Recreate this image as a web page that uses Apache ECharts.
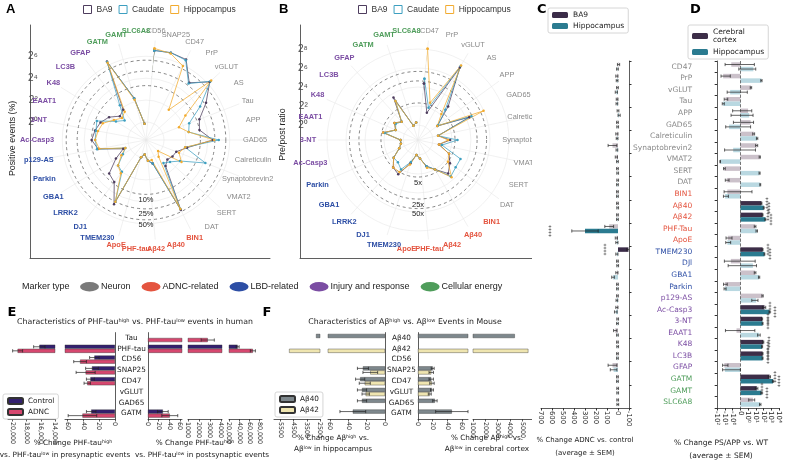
<!DOCTYPE html>
<html>
<head>
<meta charset="utf-8">
<script src="https://cdn.jsdelivr.net/npm/echarts@6/dist/echarts.min.js"></script>
<style>
body { margin: 0; background: #fff; }
#root { position: relative; width: 785px; height: 462px; overflow: hidden; background: #fff; }
.p { position: absolute; }
</style>
</head>
<body>
<div id="root">
  <div class="p" id="pA" style="left:0;top:0;width:290px;height:280px"></div>
  <div class="p" id="pB" style="left:270px;top:0;width:290px;height:280px"></div>
  <div class="p" id="pM" style="left:0;top:276px;width:530px;height:26px"></div>
  <div class="p" id="pE" style="left:0;top:300px;width:270px;height:162px"></div>
  <div class="p" id="pF" style="left:260px;top:300px;width:275px;height:162px"></div>
  <div class="p" id="pC" style="left:532px;top:0;width:110px;height:462px"></div>
  <div class="p" id="pD" style="left:630px;top:0;width:155px;height:462px"></div>
</div>
<script>
// ---------- data ----------
const typeColors = { N: "#8a8a8a", A: "#e4543f", L: "#2d4ea5", I: "#7b4da3", E: "#4f9d5b" };
const markerTypes = ["Neuron", "ADNC-related", "LBD-related", "Injury and response", "Cellular energy"];
const markerColors = ["#7a7a7a", "#e4543f", "#2d4ea5", "#7b4da3", "#4f9d5b"];
const regionColors = { BA9: "#4e3d5e", Caudate: "#3d9fc0", Hippocampus: "#f2ab2f" };

// A: positive events (%)
const aCats = ["CD56", "SNAP25", "CD47", "PrP", "vGLUT", "AS", "Tau", "APP", "GAD65", "Calreticulin",
  "Synaptobrevin2", "VMAT2", "SERT", "DAT", "BIN1", "Aβ40", "Aβ42", "PHF-tau", "ApoE", "TMEM230",
  "DJ1", "LRRK2", "GBA1", "Parkin", "p129-AS", "Ac-Casp3", "3-NT", "EAAT1", "K48", "LC3B",
  "GFAP", "GATM", "GAMT", "SLC6A8"];
const aTypes = "NNNNNNNNNNNNNNAAAAALLLLLLIIIIIIEEE";
const aBA9 = [95, 100, 95, 30, 75, 28, 12, 10, 22, 4.5, 2.5, 2.3, 2, 2.5, 45, 1.5, 1.2, 0.8, 1.0, 30,
  9, 7.5, 3, 1.5, 7, 10, 8.5, 7, 5, 3, 3.5, 82, 5, 0.9];
const aCaudate = [95, 100, 90, 28, 80, 18, 6, 5, 32, 4, 18, 4, 2.5, 2, 42, 1.5, 1.2, 0.8, 1.0, 25,
  4, 3.5, 1.8, 1.3, 7.5, 8, 8, 9, 3, 2, 5, 80, 5, 0.9];
const aHippo = [108, 95, 60, 3.5, 85, 6, 3, 5, 24, 4, 3, 4.5, 0.9, 1.2, 42, 1.2, 1.2, 0.8, 1.0, 25,
  4.5, 3.5, 2, 1.3, 6.5, 8, 7, 6, 3.5, 2.5, 3, 75, 4.5, 0.9];
const aRings = [10, 25, 50];
const aGridRings = [1, 4, 16, 64];

// B: pre/post ratio
const bCats = ["CD47", "PrP", "vGLUT", "AS", "APP", "GAD65", "Calreticulin", "Synaptobrevin2", "VMAT2", "SERT",
  "DAT", "BIN1", "Aβ40", "Aβ42", "PHF-tau", "ApoE", "TMEM230", "DJ1", "LRRK2", "GBA1",
  "Parkin", "Ac-Casp3", "3-NT", "EAAT1", "K48", "LC3B", "GFAP", "GATM", "GAMT", "SLC6A8"];
const bTypes = "NNNNNNNNNNNAAAAALLLLLIIIIIIEEE";
const bBA9 = [21, 2.7, 150, 9, 1.9, 20, 1.5, 3.5, 1.6, 4, 6, 9, 4, 2.5, 1.3, 1.0, 2, 6, 5, 3,
  1.5, 1.2, 1.2, 4.5, 2, 2.8, 2, 12, 1.0, 1.2];
const bCaudate = [30, 4, 170, 6.6, 2, 24, 1.5, 6, 2, 10, 10, 12, 4, 2.5, 1.3, 1.0, 1.8, 4, 3, 3,
  1.5, 1.2, 1.2, 4, 2, 2.5, 2, 9, 1.0, 1.2];
const bHippo = [270, 5.8, 180, 4.3, 1.9, 63, 1.5, 3, 1.6, 4, 5, 13, 4, 2.8, 1.3, 1.0, 2.2, 5, 5, 3,
  1.5, 1.2, 1.2, 4.5, 2, 2.8, 2, 9, 1.0, 1.2];
const bRings = [5, 25, 50];
const bGridRings = [1, 4, 16, 64, 256];

// C and D share categories
const cdCats = ["CD47", "PrP", "vGLUT", "Tau", "APP", "GAD65", "Calreticulin", "Synaptobrevin2", "VMAT2", "SERT",
  "DAT", "BIN1", "Aβ40", "Aβ42", "PHF-Tau", "ApoE", "TMEM230", "DJl", "GBA1", "Parkin",
  "p129-AS", "Ac-Casp3", "3-NT", "EAAT1", "K48", "LC3B", "GFAP", "GATM", "GAMT", "SLC6A8"];
const cdTypes = "NNNNNNNNNNNAAAAALLLLIIIIIIIEEE";

// C: % change ADNC vs control
const cBA9 = [-5, 10, 5, 8, 0, 5, 10, 50, 15, 5, 3, 5, 5, 5, 80, 15, -95, 5, 10, 5,
  5, 10, 3, 25, 5, 5, 50, 5, 3, 3];
const cHippo = [5, 8, 15, 10, -10, 3, 8, 10, 5, 3, 5, 5, 3, 5, 300, 10, 10, 3, 45, 5,
  10, 20, 5, 5, 3, 5, 40, 5, 3, 2];
const cBA9Sem = [10, 10, 8, 8, 8, 8, 10, 40, 10, 8, 8, 8, 8, 8, 40, 10, 15, 8, 10, 8,
  8, 10, 8, 15, 8, 8, 40, 8, 8, 8];
const cHippoSem = [8, 8, 10, 8, 10, 8, 8, 8, 8, 8, 8, 8, 8, 8, 120, 10, 10, 8, 12, 8,
  8, 12, 8, 8, 8, 8, 30, 8, 8, 8];
const cBA9Sig = [16];
const cHippoSig = [14];

// D: % change PS/APP vs WT
const dCortex = [-1.5, -17, 2.4, -8.3, 1.0, 2.1, 5.5, 13.5, 33, -12, -5.9, -4.8, 54, 76, 8.3, -4.2, 76, -1.7, 8.3, -10,
  76, 132, 66, -0.5, 93, 76, -12, 600, 13.5, 4.2];
const dHippo = [4.8, 54, -2.1, -17, 1.4, -2.9, 15, -0.93, -41, 31, 38, -9.5, 107, 174, 13.5, -4.8, 132, 4.2, 27, -10,
  11, 600, 76, 27, 66, 76, -10, 1700, 54, 38];
const dCortexSem = [8, 15, 0.5, 4, 2, 3, 1.5, 4, 6, 3, 3, 8, 8, 10, 2, 3, 10, 10, 2, 5,
  15, 60, 10, 8, 15, 10, 8, 200, 5, 3];
const dHippoSem = [5, 10, 3, 5, 3, 5, 3, 10, 4, 5, 5, 6, 15, 25, 3, 3, 15, 8, 5, 3,
  8, 80, 10, 10, 10, 10, 10, 300, 10, 8];
const dSig = [12, 13, 16, 21, 22, 24, 25, 27, 28];

// E: PHF-tau high vs low, human
const eCats = ["Tau", "PHF-tau", "CD56", "SNAP25", "CD47", "vGLUT", "GAD65", "GATM"];
const ePreControl = [null, 16200, 26, 29, 31, null, null, 30];
const ePreADNC = [null, 19250, 44, 37, 35, null, null, 41];
const ePreControlSem = [null, 800, 6, 8, 5, null, null, 6];
const ePreADNCSem = [null, 700, 8, 12, 4, null, null, 18];
const ePostControl = [null, 37000, null, null, null, null, null, 28];
const ePostADNC = [2800, 67000, null, null, null, null, null, 41];
const ePostControlSem = [null, 3000, null, null, null, null, null, 10];
const ePostADNCSem = [600, 5000, null, null, null, null, null, 15];

// F: Abeta high vs low, mouse
const fCats = ["Aβ40", "Aβ42", "CD56", "SNAP25", "CD47", "vGLUT", "GAD65", "GATM"];
const fHipAb40 = [2800, null, null, 24, 27, 25, 25, 35];
const fHipAb42 = [null, 4850, null, 16, 22, 21, null, null];
const fHipAb40Sem = [null, null, null, 6, 5, 5, 5, 14];
const fHipAb42Sem = [null, null, null, 8, 6, 4, null, null];
const fCtxAb40 = [4400, null, null, 20, 18, 19, 23, 46];
const fCtxAb42 = [null, 5500, null, 18, 19, 16, null, null];
const fCtxAb40Sem = [null, null, null, 2, 3, 2, 3, 22];
const fCtxAb42Sem = [null, null, null, 3, 3, 2, null, null];

// ---------- helpers ----------
const SANS = '"Liberation Sans", Arial, sans-serif';
const DEJA = '"DejaVu Sans", sans-serif';
const SUP = { "0": "⁰", "1": "¹", "2": "²", "3": "³", "4": "⁴", "5": "⁵", "6": "⁶", "7": "⁷", "8": "⁸", "9": "⁹", "-": "⁻" };
const sup = (n) => String(n).split("").map((c) => SUP[c]).join("");

function mk(id, option) {
    const chart = echarts.init(document.getElementById(id), null, { renderer: "canvas" });
    chart.setOption(option);
    return chart;
}

function ringSeries(levels, color, dashed, suffix) {
    return {
        type: "custom",
        coordinateSystem: "polar",
        silent: true,
        z: 1,
        data: levels.map((v) => [v, 0]),
        renderItem(params, api) {
            const cs = params.coordSys;
            const p = api.coord([api.value(0), 0]);
            const r = Math.hypot(p[0] - cs.cx, p[1] - cs.cy);
            const children = [{
                type: "circle",
                shape: { cx: cs.cx, cy: cs.cy, r },
                style: { fill: "none", stroke: color, lineWidth: dashed ? 0.8 : 0.6, lineDash: dashed ? [3, 3] : null },
            }];
            if (suffix) {
                children.push({
                    type: "text",
                    x: cs.cx,
                    y: cs.cy + r + 1.5,
                    style: { text: api.value(0) + suffix, align: "center", verticalAlign: "top", fontSize: 7.5, fontFamily: SANS, fill: "#222" },
                });
            }
            return { type: "group", children };
        },
    };
}

// category names centred on a ring just outside the polar area (ggplot style)
function spokeLabels(cats, types, offset) {
    return {
        type: "custom",
        coordinateSystem: "polar",
        silent: true,
        z: 4,
        data: cats.map((c, i) => [1, i]),
        renderItem(params, api) {
            const cs = params.coordSys;
            const i = api.value(1);
            const p = api.coord([1, i]);
            const dx = p[0] - cs.cx, dy = p[1] - cs.cy;
            const d = Math.hypot(dx, dy) || 1;
            const rr = cs.r + offset;
            return {
                type: "text",
                x: cs.cx + dx / d * rr,
                y: cs.cy + dy / d * rr,
                style: {
                    text: cats[i], align: "center", verticalAlign: "middle", fontSize: 7.4, fontFamily: SANS,
                    fill: typeColors[types[i]], fontWeight: types[i] === "N" ? "normal" : "bold",
                },
            };
        },
    };
}

function radarLine(name, vals) {
    const color = regionColors[name];
    const data = vals.map((v, i) => [v, i]);
    data.push([vals[0], 0]);
    return {
        name,
        type: "line",
        coordinateSystem: "polar",
        data,
        symbol: "circle",
        symbolSize: 2.5,
        lineStyle: { width: 0.75, color },
        itemStyle: { color },
        z: 3,
    };
}

function radarOption(cfg) {
    const R = 100;
    const m1 = cfg.m0 * Math.exp(R / cfg.k);
    const lnMin = Math.LN2 * cfg.yExp[0];
    const lnMax = Math.LN2 * cfg.yExp[1];
    const gBottom = cfg.cy + cfg.k * (Math.log(cfg.m0) - lnMin);
    const gTop = cfg.cy - cfg.k * (lnMax - Math.log(cfg.m0));
    const n = cfg.cats.length;
    const frameAxis = {
        type: "value", min: 0, max: 1,
        axisLine: { show: true, onZero: false, lineStyle: { color: "#4d4d4d", width: 0.9 } },
        axisTick: { show: false }, axisLabel: { show: false }, splitLine: { show: false },
    };
    return {
        textStyle: { fontFamily: SANS },
        title: { text: cfg.letter, left: cfg.letterX, top: 3, padding: 0, textStyle: { fontSize: 13, fontWeight: "bold", color: "#000", fontFamily: SANS } },
        legend: {
            top: 5, left: cfg.legendLeft, padding: 0, itemWidth: 8, itemHeight: 8, itemGap: 6, icon: "rect",
            textStyle: { fontSize: 8.5, color: "#333", fontFamily: SANS },
            data: Object.keys(regionColors).map((nm) => ({
                name: nm,
                itemStyle: { color: "#fff", borderColor: regionColors[nm], borderWidth: 1 },
            })),
        },
        polar: { center: [cfg.cx, cfg.cy], radius: R },
        angleAxis: {
            type: "category",
            data: cfg.cats,
            boundaryGap: false,
            startAngle: 90 - 180 / n,
            clockwise: true,
            axisLine: { show: false },
            axisTick: { show: false },
            axisLabel: { show: false },
            splitLine: { show: true, lineStyle: { color: "#e8e8e8", width: 0.6 } },
        },
        radiusAxis: {
            type: "log", logBase: 2, min: cfg.m0, max: m1,
            axisLine: { show: false }, axisLabel: { show: false }, axisTick: { show: false }, splitLine: { show: false },
        },
        grid: [
            { left: 30, top: gTop, width: 240, height: gBottom - gTop },
            { left: 30, top: 25, width: 240, height: 233 },
        ],
        xAxis: [
            { gridIndex: 0, type: "value", show: false },
            Object.assign({ gridIndex: 1 }, frameAxis),
        ],
        yAxis: [
            {
                gridIndex: 0, type: "log", logBase: 2, min: Math.pow(2, cfg.yExp[0]), max: Math.pow(2, cfg.yExp[1]),
                splitNumber: 10, interval: 2,
                axisLine: { show: false }, axisTick: { show: false }, splitLine: { show: false },
                axisLabel: {
                    fontSize: 10, color: "#4d4d4d", margin: 3,
                    formatter: (v) => {
                        const e = Math.round(Math.log2(v));
                        return e >= 0 && e <= cfg.maxLabelExp && e % 2 === 0 ? "2" + sup(e) : "";
                    },
                },
                name: cfg.yName, nameLocation: "middle", nameGap: 17,
                nameTextStyle: { fontSize: 8.8, color: "#222", fontFamily: SANS },
            },
            Object.assign({ gridIndex: 1 }, frameAxis),
        ],
        series: [
            ringSeries(cfg.gridRings, "#e8e8e8", false, null),
            ringSeries(cfg.rings, "#666", true, cfg.ringSuffix),
            spokeLabels(cfg.cats, cfg.types, cfg.labelOffset),
            radarLine("BA9", cfg.vals[0]),
            radarLine("Caudate", cfg.vals[1]),
            radarLine("Hippocampus", cfg.vals[2]),
        ],
    };
}

function hErr(g, vals, sems, sIdx, gapFrac, tf) {
    tf = tf || ((v) => v);
    const data = [];
    vals.forEach((v, i) => {
        if (v == null || sems[i] == null) return;
        data.push([i, tf(v - sems[i]), tf(v + sems[i])]);
    });
    return {
        type: "custom",
        xAxisIndex: g, yAxisIndex: g,
        silent: true, z: 5,
        encode: { x: [1, 2], y: 0 },
        data,
        renderItem(params, api) {
            const i = api.value(0);
            const a = api.coord([api.value(1), i]);
            const b = api.coord([api.value(2), i]);
            const band = api.size([0, 1])[1];
            const bw = band * (1 - gapFrac) / 2;
            const y = a[1] - bw + sIdx * bw + bw / 2;
            const cs = params.coordSys;
            let x0 = Math.min(a[0], b[0]);
            let x1 = Math.max(a[0], b[0]);
            const L = cs.x, Rr = cs.x + cs.width;
            if (x1 < L || x0 > Rr) return null;
            const cap0 = x0 >= L, cap1 = x1 <= Rr;
            x0 = Math.max(x0, L);
            x1 = Math.min(x1, Rr);
            const st = { stroke: "#222", lineWidth: 0.7 };
            const c = 1.6;
            const ch = [{ type: "line", shape: { x1: x0, y1: y, x2: x1, y2: y }, style: st }];
            if (cap0) ch.push({ type: "line", shape: { x1: x0, y1: y - c, x2: x0, y2: y + c }, style: st });
            if (cap1) ch.push({ type: "line", shape: { x1: x1, y1: y - c, x2: x1, y2: y + c }, style: st });
            return { type: "group", children: ch };
        },
    };
}

function txt(x, y, text, size, extra) {
    return {
        type: "text", x, y, silent: true,
        style: Object.assign({
            text, fontSize: size, fontFamily: DEJA, fill: "#222", align: "center", verticalAlign: "middle",
            rich: { s: { fontSize: size * 0.65, verticalAlign: "top", fontFamily: DEJA, fill: "#222" } },
        }, extra || {}),
    };
}

function splitOption(cfg) {
    const grid = [], xAxis = [], yAxis = [], series = [];
    const gap = 0.25;
    cfg.segs.forEach((s, g) => {
        grid.push({ left: s.left, width: s.width, top: cfg.top, height: cfg.height });
        xAxis.push({
            gridIndex: g, type: "value", min: s.min, max: s.max, interval: s.interval, inverse: s.side === "L",
            axisLine: { show: true, onZero: false, lineStyle: { color: "#333", width: 0.8 } },
            axisTick: { show: true, length: 2.5, lineStyle: { color: "#333", width: 0.8 } },
            axisLabel: {
                rotate: -90, fontSize: 6.3, color: "#222", margin: 3, showMaxLabel: false, fontFamily: DEJA,
                formatter: (v) => (v >= 10000 ? v.toLocaleString("en-US") : String(v)),
            },
            splitLine: { show: false },
        });
        const innerL = g === cfg.innerLeft, innerR = g === cfg.innerRight;
        yAxis.push({
            gridIndex: g, type: "category", data: cfg.cats, inverse: true, position: s.side === "L" ? "right" : "left",
            axisLine: { show: innerL || innerR, onZero: false, lineStyle: { color: "#333", width: 0.8 } },
            axisTick: { show: false },
            axisLabel: { show: innerR, margin: cfg.labelMargin, align: "center", fontSize: 7.3, color: "#222", fontFamily: DEJA },
            splitLine: { show: false },
        });
        const vals = s.side === "L" ? cfg.leftVals : cfg.rightVals;
        const sems = s.side === "L" ? cfg.leftSems : cfg.rightSems;
        cfg.names.forEach((nm, k) => {
            series.push({
                type: "bar", name: nm, xAxisIndex: g, yAxisIndex: g, data: vals[k], clip: true,
                barGap: "0%", barCategoryGap: gap * 100 + "%",
                itemStyle: { color: cfg.colors[k], borderColor: "#333", borderWidth: 0.4 },
            });
            series.push(hErr(g, vals[k], sems[k], k, gap));
        });
    });
    return {
        textStyle: { fontFamily: DEJA },
        grid, xAxis, yAxis, series,
        legend: {
            orient: "vertical", left: cfg.legend[0], top: cfg.legend[1], padding: [3, 4], itemGap: 3,
            itemWidth: 15, itemHeight: 6, borderColor: "#ccc", borderWidth: 0.8, borderRadius: 2,
            textStyle: { fontSize: 7.3, color: "#222", fontFamily: DEJA },
            data: cfg.names,
        },
        graphic: cfg.texts,
    };
}

// ---------- A and B ----------
mk("pA", radarOption({
    letter: "A", letterX: 6, legendLeft: 83, cx: 146, cy: 140, k: 15.8, m0: 0.32, yExp: [-12, 9], maxLabelExp: 6,
    cats: aCats, types: aTypes, vals: [aBA9, aCaudate, aHippo], rings: aRings, ringSuffix: "%",
    gridRings: aGridRings, yName: "Positive events (%)", labelOffset: 9,
}));
mk("pB", radarOption({
    letter: "B", letterX: 9, legendLeft: 88, cx: 148, cy: 140, k: 13.7, m0: 0.335, yExp: [-12, 10], maxLabelExp: 8,
    cats: bCats, types: bTypes, vals: [bBA9, bCaudate, bHippo], rings: bRings, ringSuffix: "x",
    gridRings: bGridRings, yName: "Pre/post ratio", labelOffset: 10,
}));

// ---------- marker type legend ----------
mk("pM", {
    textStyle: { fontFamily: SANS },
    title: { text: "Marker type", left: 22, top: 6.5, padding: 0, textStyle: { fontSize: 9, fontWeight: "normal", color: "#222", fontFamily: SANS } },
    legend: {
        left: 80, top: 6, padding: 0, width: 450, itemWidth: 19, itemHeight: 11, itemGap: 11,
        icon: "path://M0,5a10,5 0 1,0 20,0a10,5 0 1,0 -20,0z",
        textStyle: { fontSize: 9, color: "#222", fontFamily: SANS, padding: [0, 0, 0, -3] },
    },
    series: [{
        type: "pie", radius: [0, 0], center: [-50, -50], silent: true, label: { show: false },
        data: markerTypes.map((t, i) => ({ name: t, value: 1, itemStyle: { color: markerColors[i] } })),
    }],
});

// ---------- C ----------
const cLight = ["#c9c1c8", "#b9d8e1"];
const cDark = ["#3b2c48", "#2b7b90"];
function cBars(name, vals, sig, k, starDist) {
    return {
        type: "bar", name, data: vals.map((v, i) => {
            const s = sig.includes(i);
            return {
                value: v,
                itemStyle: { color: s ? cDark[k] : cLight[k] },
                label: s ? { show: true, position: "left", distance: starDist, rotate: 90, formatter: "****", fontSize: 6, color: "#333", align: "center", verticalAlign: "middle" } : { show: false },
            };
        }),
        barGap: "0%", barCategoryGap: "22%",
        itemStyle: { color: cDark[k] },
    };
}
mk("pC", {
    backgroundColor: "#fff",
    textStyle: { fontFamily: DEJA },
    title: { text: "C", left: 5, top: 3, padding: 0, textStyle: { fontSize: 13, fontWeight: "bold", color: "#000", fontFamily: DEJA } },
    legend: {
        orient: "vertical", left: 16, top: 8, padding: [3, 4], itemGap: 3, itemWidth: 16, itemHeight: 6,
        borderColor: "#ccc", borderWidth: 0.8, borderRadius: 2,
        textStyle: { fontSize: 7.5, color: "#222", fontFamily: DEJA },
        data: ["BA9", "Hippocampus"],
    },
    grid: { left: 9, top: 61, width: 88, height: 347 },
    xAxis: {
        type: "value", inverse: true, min: -100, max: 700, interval: 100,
        axisLine: { show: true, onZero: false, lineStyle: { color: "#333", width: 0.8 } },
        axisTick: { show: true, length: 2.5 },
        axisLabel: { rotate: -90, fontSize: 6.8, color: "#222", margin: 3 },
        splitLine: { show: false },
    },
    yAxis: {
        type: "category", data: cdCats, inverse: true, position: "right",
        axisLine: { show: true, onZero: false, lineStyle: { color: "#333", width: 0.8 } },
        axisTick: { show: true, length: 2.5 }, axisLabel: { show: false }, splitLine: { show: false },
    },
    series: [
        cBars("BA9", cBA9, cBA9Sig, 0, 12),
        cBars("Hippocampus", cHippo, cHippoSig, 1, 34),
        hErr(0, cBA9, cBA9Sem, 0, 0.22),
        hErr(0, cHippo, cHippoSem, 1, 0.22),
    ],
    graphic: [
        txt(53, 440, "% Change ADNC vs. control", 7),
        txt(53, 453, "(average ± SEM)", 7),
    ],
});

// ---------- D ----------
const symlog = (v) => (Math.abs(v) <= 1 ? v : Math.sign(v) * (1 + Math.log10(Math.abs(v))));
const dLight = ["#cbc1ca", "#b9d8e1"];
const dDark = ["#3d2e48", "#2b7b90"];
function dBars(name, vals, k) {
    return {
        type: "bar", name, barGap: "0%", barCategoryGap: "22%",
        itemStyle: { color: dDark[k] },
        data: vals.map((v, i) => {
            const s = dSig.includes(i);
            return {
                value: symlog(v),
                itemStyle: { color: s ? dDark[k] : dLight[k] },
                label: s ? { show: true, position: "right", distance: 7, rotate: 90, formatter: "****", fontSize: 6, color: "#333", align: "center", verticalAlign: "middle" } : { show: false },
            };
        }),
        markLine: k === 0 ? {
            silent: true, symbol: "none", label: { show: false },
            lineStyle: { color: "#555", type: "dashed", width: 0.8 },
            data: [{ xAxis: 0 }],
        } : undefined,
    };
}
mk("pD", {
    textStyle: { fontFamily: DEJA },
    title: { text: "D", left: 60, top: 3, padding: 0, textStyle: { fontSize: 13, fontWeight: "bold", color: "#000", fontFamily: DEJA } },
    legend: {
        orient: "vertical", left: 58, top: 25, padding: [3, 4], itemGap: 4, itemWidth: 16, itemHeight: 6,
        borderColor: "#ccc", borderWidth: 0.8, borderRadius: 2,
        textStyle: { fontSize: 7.5, color: "#222", fontFamily: DEJA },
        data: ["Cerebral cortex", "Hippocampus"],
        formatter: (n) => (n === "Cerebral cortex" ? "Cerebral\ncortex" : n),
    },
    grid: { left: 60, top: 61, width: 89, height: 347 },
    xAxis: {
        type: "value", min: -3, max: 5, interval: 1,
        axisLine: { show: true, onZero: false, lineStyle: { color: "#333", width: 0.8 } },
        axisTick: { show: true, length: 2.5 },
        axisLabel: {
            rotate: -90, fontSize: 7, color: "#222", margin: 3,
            formatter: (k) => (k === 0 ? "0" : k > 0 ? "10" + sup(k - 1) : "-10" + sup(-k - 1)),
        },
        splitLine: { show: false },
    },
    yAxis: {
        type: "category", inverse: true,
        data: cdCats.map((c, i) => ({ value: c, textStyle: { color: typeColors[cdTypes[i]] } })),
        axisLine: { show: true, onZero: false, lineStyle: { color: "#333", width: 0.8 } },
        axisTick: { show: true, length: 2.5 },
        axisLabel: { margin: 25, align: "center", fontSize: 7.5, fontFamily: DEJA },
        splitLine: { show: false },
    },
    series: [
        dBars("Cerebral cortex", dCortex, 0),
        dBars("Hippocampus", dHippo, 1),
        hErr(0, dCortex, dCortexSem, 0, 0.22, symlog),
        hErr(0, dHippo, dHippoSem, 1, 0.22, symlog),
    ],
    graphic: [
        txt(91, 443, "% Change PS/APP vs. WT", 7.5),
        txt(91, 456, "(average ± SEM)", 7.5),
    ],
});

// ---------- E ----------
mk("pE", splitOption({
    cats: eCats, top: 32.6, height: 86.4, labelMargin: 16.5, innerLeft: 1, innerRight: 2,
    names: ["Control", "ADNC"], colors: ["#33206e", "#d6476f"],
    leftVals: [ePreControl, ePreADNC], leftSems: [ePreControlSem, ePreADNCSem],
    rightVals: [ePostControl, ePostADNC], rightSems: [ePostControlSem, ePostADNCSem],
    segs: [
        { side: "L", left: 8, width: 47, min: 14000, max: 20600, interval: 2000 },
        { side: "L", left: 65, width: 50, min: 0, max: 63, interval: 20 },
        { side: "R", left: 148, width: 34, min: 0, max: 64, interval: 20 },
        { side: "R", left: 188, width: 34, min: 1000, max: 4100, interval: 1000 },
        { side: "R", left: 229, width: 33, min: 20000, max: 85000, interval: 20000 },
    ],
    legend: [3, 94],
    texts: [
        txt(12, 13, "E", 13, { fontWeight: "bold", fill: "#000" }),
        txt(135, 22, "Characteristics of PHF-tau{s|high} vs. PHF-tau{s|low} events in human", 7.8),
        txt(73, 143, "% Change PHF-tau{s|high}", 7.3),
        txt(65, 155, "vs. PHF-tau{s|low} in presynaptic events", 7.3),
        txt(195, 143, "% Change PHF-tau{s|high}", 7.3),
        txt(202, 155, "vs. PHF-tau{s|low} in postsynaptic events", 7.3),
    ],
}));

// ---------- F ----------
mk("pF", splitOption({
    cats: fCats, top: 32.6, height: 86.4, labelMargin: 16.5, innerLeft: 1, innerRight: 2,
    names: ["Aβ40", "Aβ42"], colors: ["#7e888d", "#efe5b0"],
    leftVals: [fHipAb40, fHipAb42], leftSems: [fHipAb40Sem, fHipAb42Sem],
    rightVals: [fCtxAb40, fCtxAb42], rightSems: [fCtxAb40Sem, fCtxAb42Sem],
    segs: [
        { side: "L", left: 14, width: 46, min: 2500, max: 6000, interval: 1000 },
        { side: "L", left: 68, width: 57, min: 0, max: 62, interval: 20 },
        { side: "R", left: 158, width: 50, min: 0, max: 68, interval: 20 },
        { side: "R", left: 213, width: 59, min: 1000, max: 5800, interval: 1000 },
    ],
    legend: [15, 92],
    texts: [
        txt(7, 13, "F", 13, { fontWeight: "bold", fill: "#000" }),
        txt(145, 22, "Characteristics of Aβ{s|high} vs. Aβ{s|low} Events in Mouse", 7.8),
        txt(73, 138, "% Change Aβ{s|high} vs.", 7.3),
        txt(73, 149, "Aβ{s|low} in hippocampus", 7.3),
        txt(227, 138, "% Change Aβ{s|high} vs.", 7.3),
        txt(227, 149, "Aβ{s|low} in cerebral cortex", 7.3),
    ],
}));
</script>
</body>
</html>
